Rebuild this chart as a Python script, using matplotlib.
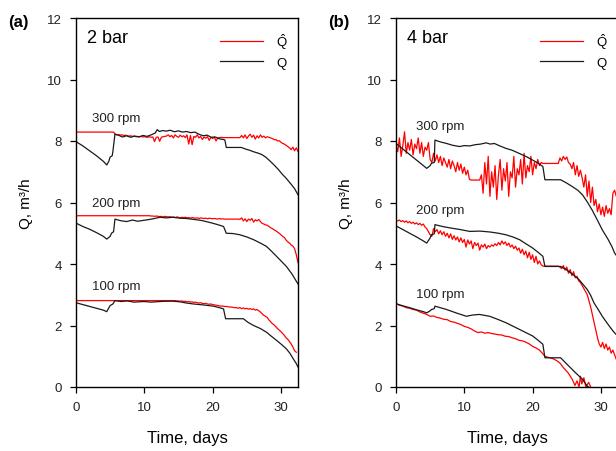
import numpy as np
import matplotlib.pyplot as plt

plt.rcParams["font.family"] = ["Liberation Sans", "DejaVu Sans"]
plt.rcParams["mathtext.fontset"] = "custom"
plt.rcParams["mathtext.rm"] = "Liberation Sans"
plt.rcParams["mathtext.it"] = "Liberation Sans:italic"

# ---- data: red = predicted (Q hat), 0.25-day sampling ----
a300_red = ([8.29] * 23 +
            [8.22, 8.2, 8.21, 8.19, 8.2, 8.18, 8.19, 8.17, 8.16, 8.17, 8.15, 8.16,
             8.14, 8.15, 8.14, 8.15, 8.13, 8.14, 8.13, 8.12, 8.14, 8.12, 8.13] +
            [7.98, 8.12, 8.13, 7.99, 8.12, 8.14, 8.15, 8.16, 8.2, 8.14, 8.18, 8.1,
             8.2, 8.15, 8.12, 8.19, 8.14, 8.17, 8.11, 8.2, 7.9, 8.18, 7.88, 8.15,
             8.12, 8.2, 8.1, 8.15, 8.05, 8.13, 8.09, 8.14, 8.02, 8.12, 8.08, 8.13,
             8.0, 8.1, 8.11, 8.12, 8.11, 8.11, 8.11] +
            [8.11] * 7 +
            [8.11, 8.18, 8.1, 8.2, 8.08, 8.16, 8.22, 8.12, 8.19, 8.06, 8.17, 8.1,
             8.2, 8.12, 8.16, 8.1, 8.14, 8.12, 8.1, 8.08, 8.04, 8.05, 8.0, 8.01,
             7.96, 7.92, 7.9, 7.86, 7.82, 7.78, 7.72, 7.8, 7.68, 7.78, 7.66])

a200_red = ([5.57] * 44 +
            [5.56, 5.56, 5.55, 5.56, 5.55, 5.54, 5.55, 5.53, 5.55, 5.54, 5.53, 5.54,
             5.52, 5.53, 5.51, 5.53, 5.52, 5.5, 5.52, 5.51, 5.52, 5.5, 5.51, 5.49,
             5.51, 5.5, 5.49, 5.5, 5.48, 5.5, 5.49, 5.48, 5.49, 5.47, 5.49, 5.48,
             5.47, 5.48, 5.47, 5.46, 5.48, 5.46, 5.47, 5.46] +
            [5.46] * 8 +
            [5.45, 5.5, 5.4, 5.47, 5.38, 5.46, 5.42, 5.48, 5.36, 5.44, 5.4, 5.45,
             5.38, 5.32, 5.3, 5.27, 5.26, 5.22, 5.18, 5.15, 5.11, 5.08, 5.04, 5.0,
             4.95, 4.9, 4.86, 4.78, 4.72, 4.68, 4.62, 4.58, 4.5, 4.3, 4.05])

a100_red = ([2.81] * 59 +
            [2.8, 2.8, 2.79, 2.8, 2.78, 2.79, 2.77, 2.78, 2.76, 2.77, 2.75, 2.76,
             2.74, 2.73, 2.74, 2.72, 2.71, 2.72, 2.7, 2.69, 2.7, 2.68, 2.67, 2.66,
             2.65, 2.64, 2.63, 2.63, 2.62, 2.62, 2.61, 2.6, 2.6, 2.59, 2.58, 2.58,
             2.56, 2.58, 2.55, 2.57, 2.54, 2.56, 2.53, 2.55, 2.52, 2.54, 2.5, 2.52,
             2.48, 2.44, 2.38, 2.33, 2.3, 2.26, 2.18, 2.12, 2.06, 2.02, 1.96, 1.9,
             1.85, 1.8, 1.74, 1.68, 1.6, 1.55, 1.48, 1.4, 1.3, 1.18, 1.13])

b300_red = ([7.9, 7.65, 8.1, 7.5, 7.85, 8.3, 7.6, 7.95, 7.7, 8.05, 7.55, 7.9, 7.75,
             8.1, 7.6, 7.95, 7.5, 7.8, 7.7, 7.95, 7.4, 7.3] +
            [7.6, 7.35, 7.55, 7.3, 7.5, 7.2, 7.45, 7.3, 7.15, 7.4, 7.1, 7.35, 7.2,
             7.0, 7.3, 7.05, 7.25, 6.95, 7.15, 6.9, 7.05, 6.75] +
            [6.73] * 6 +
            [6.9, 6.3, 7.3, 6.6, 7.5, 6.2, 7.0, 6.5, 7.2, 6.1, 6.9, 7.4,
             6.4, 7.1, 6.7, 7.3, 6.2, 7.0, 6.8, 7.5, 6.5, 7.1, 6.9, 7.4,
             6.6, 7.6, 6.8, 7.2, 7.0, 7.5, 6.9, 7.3, 7.1, 7.4, 7.2, 7.3] +
            [7.27] * 10 +
            [7.45, 7.35, 7.5, 7.4, 7.48, 7.3, 7.25, 7.1, 7.3, 6.9, 7.2, 6.85, 7.05,
             6.8, 6.5, 6.9, 6.2, 6.7, 6.0, 6.5, 5.9, 6.1, 5.7, 5.95, 5.6, 5.85,
             5.55, 5.9, 5.65, 5.8, 5.6, 6.3, 6.4, 6.2, 6.4])

b200_red = ([5.42, 5.4, 5.43, 5.38, 5.41, 5.36, 5.4, 5.34, 5.38, 5.32, 5.36, 5.3,
             5.34, 5.28, 5.32, 5.26, 5.3, 5.2, 5.15, 5.05, 4.95, 4.9] +
            [5.15, 5.05, 5.12, 4.98, 5.08, 4.95, 5.05, 4.9, 5.0, 4.85, 4.98, 4.8,
             4.92, 4.78, 4.88, 4.72, 4.85, 4.7, 4.8, 4.55, 4.78, 4.65, 4.75, 4.5,
             4.7, 4.6, 4.68, 4.45, 4.62, 4.55, 4.65, 4.5, 4.6] +
            [4.55, 4.62, 4.58, 4.66, 4.6, 4.7, 4.62, 4.75, 4.65, 4.72, 4.6, 4.68,
             4.55, 4.62, 4.5, 4.58, 4.45] +
            [4.52, 4.35, 4.48, 4.3, 4.42, 4.2, 4.38, 4.15, 4.3, 4.05, 4.25, 4.0,
             4.1, 3.98] +
            [3.93] * 10 +
            [3.9, 3.85, 3.95, 3.8, 3.9, 3.7, 3.82, 3.62, 3.75, 3.55, 3.6, 3.45,
             3.4, 3.3, 3.2, 3.1, 3.0, 2.8, 2.6, 2.35, 2.1, 1.85, 1.6, 1.4, 1.3,
             1.45, 1.25, 1.4, 1.2, 1.3, 1.1, 1.2, 1.05, 0.9, 0.7])

b100_red = [(0, 2.71), (0.5, 2.66), (1, 2.63), (1.5, 2.58), (2, 2.56), (2.5, 2.52),
            (3, 2.5), (3.5, 2.44), (4, 2.4), (4.5, 2.36), (5, 2.3), (5.5, 2.31),
            (6, 2.26), (6.5, 2.24), (7, 2.2), (7.5, 2.19), (8, 2.13), (8.5, 2.11),
            (9, 2.07), (9.5, 2.03), (10, 1.97), (10.5, 1.94), (11, 1.89), (11.5, 1.82),
            (12, 1.77), (12.5, 1.79), (13, 1.75), (13.5, 1.77), (14, 1.74),
            (14.5, 1.72), (15, 1.7), (15.5, 1.69), (16, 1.65), (16.5, 1.64),
            (17, 1.6), (17.5, 1.57), (18, 1.52), (18.5, 1.5), (19, 1.46), (19.5, 1.4),
            (20, 1.32), (20.5, 1.27), (21, 1.2), (21.5, 1.08), (21.8, 1.0),
            (22.5, 0.95), (23, 0.92), (23.5, 0.86), (24, 0.78), (24.5, 0.63),
            (25.2, 0.46), (25.8, 0.25), (26.2, 0.05), (26.5, 0.2), (26.8, 0.0),
            (27.0, 0.35), (27.2, 0.1), (27.5, 0.3), (27.8, 0.0), (28.2, 0.15),
            (28.5, 0.0)]

# ---- data: black = measured Q, (day, value) ----
a300_black = [(0, 7.98), (1, 7.84), (2, 7.68), (3, 7.52), (4, 7.34), (4.5, 7.22),
              (4.8, 7.34), (5.0, 7.48), (5.3, 7.52), (5.4, 7.66), (5.7, 8.22),
              (6.2, 8.19), (6.8, 8.13), (7.4, 8.17), (8.0, 8.12), (8.6, 8.16),
              (9.2, 8.13), (9.8, 8.18), (10.4, 8.15), (11.0, 8.2), (11.6, 8.26),
              (11.9, 8.37), (12.2, 8.31), (12.7, 8.34), (13.2, 8.32), (13.8, 8.35),
              (14.4, 8.3), (15.0, 8.33), (15.6, 8.29), (16.2, 8.31), (16.8, 8.27),
              (17.4, 8.29), (18.0, 8.22), (18.6, 8.17), (19.2, 8.19), (19.8, 8.12),
              (20.4, 8.13), (21.0, 8.07), (21.6, 8.05), (21.8, 8.03), (22.0, 7.79),
              (24.2, 7.79), (24.8, 7.74), (25.4, 7.7), (26.0, 7.65), (26.6, 7.61),
              (27.2, 7.56), (27.8, 7.47), (28.4, 7.35), (29.0, 7.22), (29.6, 7.08),
              (30.2, 6.92), (30.8, 6.78), (31.4, 6.62), (32.0, 6.45), (32.5, 6.25)]

a200_black = [(0, 5.33), (1, 5.22), (2, 5.13), (3, 5.02), (4, 4.9), (4.5, 4.81),
              (5.0, 4.9), (5.2, 5.0), (5.5, 5.05), (5.7, 5.46), (6.5, 5.41),
              (7.4, 5.38), (8.3, 5.43), (9.0, 5.39), (9.9, 5.42), (10.8, 5.45),
              (11.5, 5.48), (12.3, 5.52), (13.2, 5.5), (14.2, 5.52), (15.2, 5.49),
              (16.2, 5.48), (17.2, 5.45), (18.3, 5.42), (19.6, 5.35), (20.6, 5.29),
              (21.6, 5.22), (22.0, 5.0), (23.0, 4.99), (24.0, 4.95), (25.0, 4.88),
              (26.0, 4.79), (27.0, 4.68), (27.9, 4.57), (28.6, 4.42), (29.4, 4.24),
              (30.1, 4.08), (30.8, 3.92), (31.6, 3.68), (32.5, 3.35)]

a100_black = [(0, 2.74), (1, 2.68), (2, 2.62), (3, 2.56), (4, 2.5), (4.5, 2.45),
              (5.0, 2.65), (5.4, 2.7), (5.7, 2.81), (6.6, 2.78), (7.5, 2.8),
              (8.5, 2.76), (9.9, 2.78), (11.0, 2.76), (12.3, 2.78), (13.2, 2.79),
              (14.2, 2.79), (15.2, 2.77), (16.2, 2.73), (17.2, 2.7), (18.6, 2.67),
              (20.1, 2.63), (21.0, 2.58), (21.6, 2.54), (21.9, 2.22), (24.5, 2.22),
              (25.2, 2.1), (26.0, 2.0), (27.0, 1.9), (27.9, 1.78), (28.6, 1.65),
              (29.4, 1.51), (30.1, 1.38), (30.8, 1.24), (31.3, 1.1), (31.8, 0.92),
              (32.2, 0.78), (32.5, 0.65)]

b300_black = [(0, 7.92), (1, 7.74), (2, 7.56), (3, 7.38), (4, 7.2), (4.5, 7.11),
              (5.0, 7.2), (5.2, 7.28), (5.6, 7.3), (5.7, 8.03), (6.5, 7.97),
              (7.4, 7.92), (8.3, 7.86), (9.3, 7.82), (10.0, 7.85), (10.8, 7.84),
              (11.6, 7.88), (12.4, 7.9), (13.2, 7.94), (13.8, 7.9), (14.4, 7.92),
              (15.2, 7.84), (16.1, 7.76), (17.0, 7.7), (18.0, 7.6), (19.0, 7.5),
              (20.0, 7.38), (20.8, 7.28), (21.5, 7.17), (21.8, 6.74), (24.1, 6.74),
              (25.0, 6.63), (25.8, 6.52), (26.6, 6.4), (27.3, 6.25), (28.0, 6.02),
              (28.7, 5.76), (29.5, 5.42), (30.2, 5.11), (31.0, 4.82), (31.6, 4.57),
              (32.0, 4.36), (32.5, 4.2)]

b200_black = [(0, 5.24), (1, 5.12), (2, 5.0), (3, 4.88), (4, 4.75), (4.5, 4.68),
              (5.0, 4.85), (5.2, 4.95), (5.6, 4.98), (5.7, 5.28), (6.8, 5.22),
              (8.0, 5.17), (9.4, 5.12), (10.8, 5.06), (12.3, 5.07), (13.8, 5.04),
              (15.0, 5.0), (16.1, 4.95), (17.1, 4.88), (18.1, 4.79), (19.0, 4.66),
              (20.0, 4.52), (20.8, 4.38), (21.5, 4.25), (21.8, 3.92), (24.1, 3.92),
              (24.9, 3.82), (25.9, 3.66), (26.8, 3.49), (27.4, 3.33), (28.0, 3.17),
              (28.5, 2.98), (29.0, 2.73), (29.6, 2.52), (30.2, 2.3), (30.9, 2.08),
              (31.6, 1.87), (32.0, 1.76), (32.5, 1.65)]

b100_black = [(0, 2.71), (1, 2.64), (2, 2.58), (3, 2.51), (4, 2.45), (4.5, 2.41),
              (5.0, 2.48), (5.2, 2.52), (5.6, 2.55), (5.7, 2.63), (7.4, 2.52),
              (8.8, 2.41), (10.3, 2.3), (11.2, 2.34), (12.2, 2.36), (13.7, 2.3),
              (14.9, 2.2), (16.1, 2.09), (17.1, 1.98), (18.1, 1.87), (19.0, 1.77),
              (20.0, 1.66), (20.8, 1.52), (21.5, 1.39), (21.8, 0.95), (24.1, 0.95),
              (25.3, 0.68), (26.3, 0.46), (27.3, 0.25), (28.0, 0.03), (28.2, 0.0)]

rpm_labels = ["300 rpm", "200 rpm", "100 rpm"]
rpm_pos_a = [(2.4, 8.76), (2.4, 6.0), (2.4, 3.28)]
rpm_pos_b = [(3.0, 8.5), (3.0, 5.75), (3.0, 3.03)]

RED = "#ff0000"
BLACK = "#1a1a1a"
STEP = 0.25


def grid_line(ax, vals, **kw):
    t = np.arange(len(vals)) * STEP
    return ax.plot(t, vals, **kw)


def pair_line(ax, pts, **kw):
    t, q = zip(*pts)
    return ax.plot(t, q, **kw)


fig = plt.figure(figsize=(6.16, 4.52), dpi=100)
W, H = 616, 452
ax_a = fig.add_axes([76 / W, 1 - 388 / H, 222 / W, 369 / H])
ax_b = fig.add_axes([396 / W, 1 - 388 / H, 222 / W, 369 / H])

panels = [
    (ax_a, "2 bar", [a300_red, a200_red, a100_red], [a300_black, a200_black, a100_black], rpm_pos_a),
    (ax_b, "4 bar", [b300_red, b200_red, b100_red], [b300_black, b200_black, b100_black], rpm_pos_b),
]

for ax, title, reds, blacks, rpos in panels:
    lr = None
    lb = None
    for r, b in zip(reds, blacks):
        if isinstance(r[0], tuple):
            lr, = pair_line(ax, r, color=RED, lw=0.9)
        else:
            lr, = grid_line(ax, r, color=RED, lw=0.9)
        lb, = pair_line(ax, b, color=BLACK, lw=0.9)
    for lab, (x, y) in zip(rpm_labels, rpos):
        ax.text(x, y, lab, fontsize=9.5, va="center", ha="left", color="#222222")
    ax.text(0.05, 0.948, title, transform=ax.transAxes, fontsize=13,
            va="center", ha="left")
    ax.legend([lr, lb], [r"$\hat{\mathrm{Q}}$", "Q"], loc="upper right",
              frameon=False, fontsize=9.5, handlelength=3.3, handletextpad=1.0,
              labelspacing=0.4, bbox_to_anchor=(0.99, 0.985), borderaxespad=0.2)
    ax.set_xlim(0, 32.5)
    ax.set_ylim(0, 12)
    ax.set_xticks([0, 10, 20, 30])
    ax.set_yticks([0, 2, 4, 6, 8, 10, 12])
    ax.tick_params(direction="out", length=4, width=0.9, labelsize=9.5, pad=6,
                   top=False, right=False, labelcolor="#222222")
    for s in ax.spines.values():
        s.set_linewidth(1.0)
    ax.set_xlabel("Time, days", fontsize=12, labelpad=12)
    ax.set_ylabel("Q, m³/h", fontsize=11, labelpad=10)

fig.text(8 / W, 1 - 22 / H, "(a)", fontsize=12, fontweight="bold", va="center")
fig.text(328 / W, 1 - 22 / H, "(b)", fontsize=12, fontweight="bold", va="center")

fig.savefig("out.png", dpi=100)
